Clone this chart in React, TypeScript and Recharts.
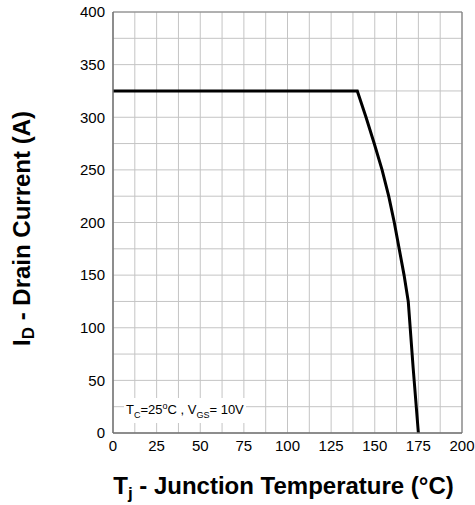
import { LineChart, Line, XAxis, YAxis, CartesianGrid, ReferenceLine } from "recharts";

const tempC = [0, 140, 145, 149.7, 154.2, 158, 161.2, 164, 166.8, 169.2, 172, 175];
const drainA = [325, 325, 300, 275, 250, 225, 200, 175, 150, 125, 62, 0];

const xTicks = [0, 25, 50, 75, 100, 125, 150, 175, 200];
const yTicks = [0, 50, 100, 150, 200, 250, 300, 350, 400];
const xGrid = [0, 12.5, 25, 37.5, 50, 62.5, 75, 87.5, 100, 112.5, 125, 137.5, 150, 162.5, 175, 187.5, 200];
const yGrid = [0, 25, 50, 75, 100, 125, 150, 175, 200, 225, 250, 275, 300, 325, 350, 375, 400];

const data = tempC.map((t, i) => ({ t, id: drainA[i] }));

const font = "'Liberation Sans', Arial, sans-serif";

// grid lines at the minor steps, mapped through the axis scale
const vGrid = (p: any) => {
  const s = p?.xAxis?.scale;
  if (typeof s === "function") return xGrid.map((v) => s(v));
  return xGrid.map((v) => p.offset.left + (v / 200) * p.offset.width);
};
const hGrid = (p: any) => {
  const s = p?.yAxis?.scale;
  if (typeof s === "function") return yGrid.map((v) => s(v));
  return yGrid.map((v) => p.offset.top + (1 - v / 400) * p.offset.height);
};

function YLabel(props: any) {
  const { viewBox } = props;
  const cy = viewBox.y + viewBox.height / 2 + 6;
  return (
    <text
      x={0}
      y={0}
      transform={`translate(30, ${cy}) rotate(-90)`}
      textAnchor="middle"
      fontFamily={font}
      fontWeight="bold"
      fontSize={24}
      fill="#000"
    >
      I<tspan fontSize={17} dy={4}>D</tspan>
      <tspan dy={-4}> - Drain Current (A)</tspan>
    </text>
  );
}

function XLabel(props: any) {
  const { viewBox } = props;
  const cx = viewBox.x + viewBox.width / 2 - 4;
  return (
    <text
      x={cx}
      y={viewBox.y + 61}
      textAnchor="middle"
      fontFamily={font}
      fontWeight="bold"
      fontSize={24}
      fill="#000"
    >
      T<tspan fontSize={17} dy={5}>j</tspan>
      <tspan dy={-5}> - Junction Temperature (°C)</tspan>
    </text>
  );
}

export default function App() {
  return (
    <div style={{ position: "absolute", left: 0, top: 0, width: 475, height: 505 }}>
      <LineChart
        width={475}
        height={505}
        data={data}
        margin={{ top: 12, right: 13, left: 0, bottom: 0 }}
      >
        <CartesianGrid
          stroke="#c4c4c4"
          strokeWidth={1}
          verticalCoordinatesGenerator={vGrid}
          horizontalCoordinatesGenerator={hGrid}
        />
        <XAxis
          dataKey="t"
          type="number"
          domain={[0, 200]}
          ticks={xTicks}
          height={72}
          tickLine={false}
          axisLine={{ stroke: "#707070", strokeWidth: 1.5 }}
          tick={{ fontFamily: font, fontSize: 15, fill: "#000" }}
          tickMargin={1}
          interval={0}
          label={<XLabel />}
        />
        <YAxis
          type="number"
          domain={[0, 400]}
          ticks={yTicks}
          width={113}
          tickLine={false}
          axisLine={{ stroke: "#707070", strokeWidth: 1.5 }}
          tick={{ fontFamily: font, fontSize: 15, fill: "#000" }}
          tickMargin={2}
          interval={0}
          label={<YLabel />}
        />
        <ReferenceLine y={400} stroke="#808080" strokeWidth={1.2} />
        <ReferenceLine x={200} stroke="#808080" strokeWidth={1.2} />
        <Line
          dataKey="id"
          type="linear"
          stroke="#000"
          strokeWidth={3}
          dot={false}
          isAnimationActive={false}
        />
      </LineChart>
      <div
        style={{
          position: "absolute",
          left: 124,
          top: 398,
          background: "#fff",
          fontFamily: font,
          fontSize: 13,
          lineHeight: "16px",
          padding: "0 2px",
          color: "#000",
        }}
      >
        T<sub style={{ fontSize: 9 }}>C</sub>=25<sup style={{ fontSize: 9 }}>o</sup>C , V
        <sub style={{ fontSize: 9 }}>GS</sub>= 10V
      </div>
    </div>
  );
}
